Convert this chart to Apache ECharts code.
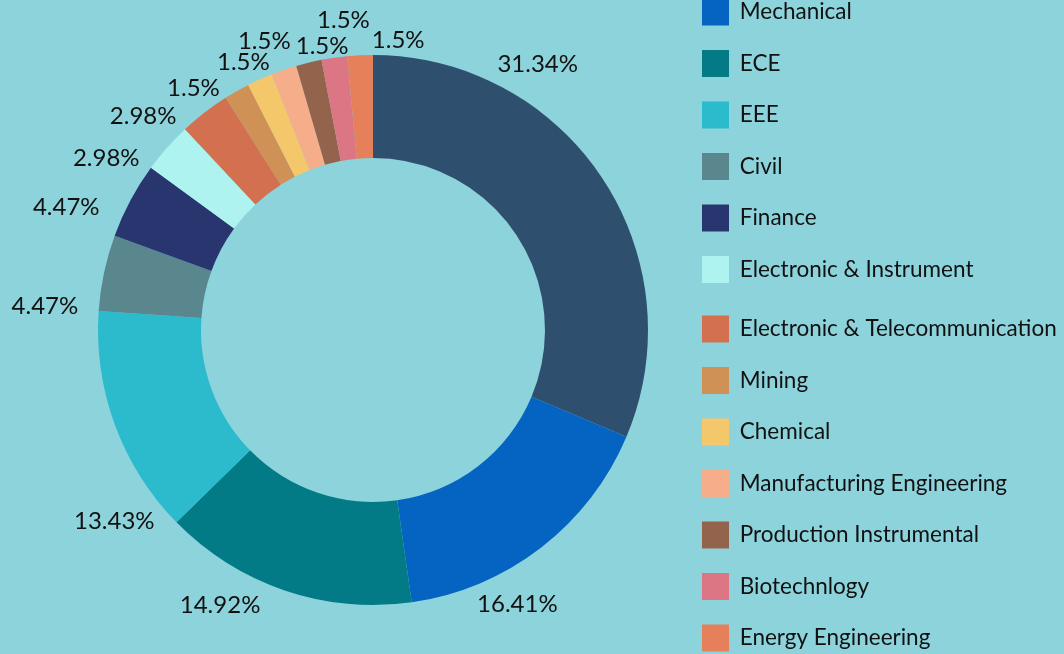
<!DOCTYPE html>
<html>
<head>
<meta charset="utf-8">
<script src="https://cdn.jsdelivr.net/npm/echarts@6/dist/echarts.min.js"></script>
<style>
  html, body { margin: 0; padding: 0; background: #8dd3dc; }
  #chart { width: 1064px; height: 654px; }
</style>
</head>
<body>
<div id="chart"></div>
<script>
// branches and their share of students (%)
const branches = [
    'Computer Science', 'Mechanical', 'ECE', 'EEE', 'Civil', 'Finance',
    'Electronic & Instrument', 'Electronic & Telecommunication', 'Mining',
    'Chemical', 'Manufacturing Engineering', 'Production Instrumental',
    'Biotechnlogy', 'Energy Engineering'
];
const shares = [31.34, 16.41, 14.92, 13.43, 4.47, 4.47, 2.98, 2.98, 1.5, 1.5, 1.5, 1.5, 1.5, 1.5];
const colors = [
    '#2f4f6e', '#0563c1', '#037b87', '#2bbbcd', '#5a878e', '#29356e',
    '#aef3f0', '#d2704f', '#d09157', '#f4c86a', '#f5ad8a', '#94634c',
    '#dc7684', '#e5805a'
];

// hand nudges for the percentage labels (the original places them freely)
const labelNudge = [
    [-118, -108], [-75, 49], [-16, 5], [54, 93], [-11, 36], [-17, 11], [-15, 17],
    [-17, 12], [-7, 6], [19, -8], [15, -19], [47, -7], [42, -28], [70, -5]
];

const chart = echarts.init(document.getElementById('chart'));

const legendBase = {
    orient: 'vertical',
    left: 702,
    padding: 0,
    height: 380,
    itemWidth: 27,
    itemHeight: 27,
    itemGap: 24.5,
    icon: 'rect',
    formatter: function (name) {
        return ' ' + name;
    },
    textStyle: {
        color: '#111',
        fontSize: 22.5,
        fontFamily: 'Lato'
    }
};

const option = {
    backgroundColor: '#8dd3dc',
    color: colors,
    legend: [
        Object.assign({}, legendBase, { top: -53, data: branches.slice(0, 7) }),
        Object.assign({}, legendBase, { top: 315.5, data: branches.slice(7) })
    ],
    series: [
        {
            type: 'pie',
            center: [373, 330],
            radius: [172, 275],
            startAngle: 90,
            silent: true,
            avoidLabelOverlap: false,
            data: branches.map((name, i) => ({ name: name, value: shares[i] })),
            label: {
                show: true,
                position: 'outside',
                formatter: '{c}%',
                color: '#111',
                fontSize: 24,
                fontFamily: 'Lato'
            },
            labelLine: {
                show: false,
                length: 10,
                length2: 0
            },
            labelLayout: function (params) {
                const n = labelNudge[params.dataIndex];
                return { dx: n[0], dy: n[1] };
            }
        }
    ]
};

chart.setOption(option);
</script>
</body>
</html>
